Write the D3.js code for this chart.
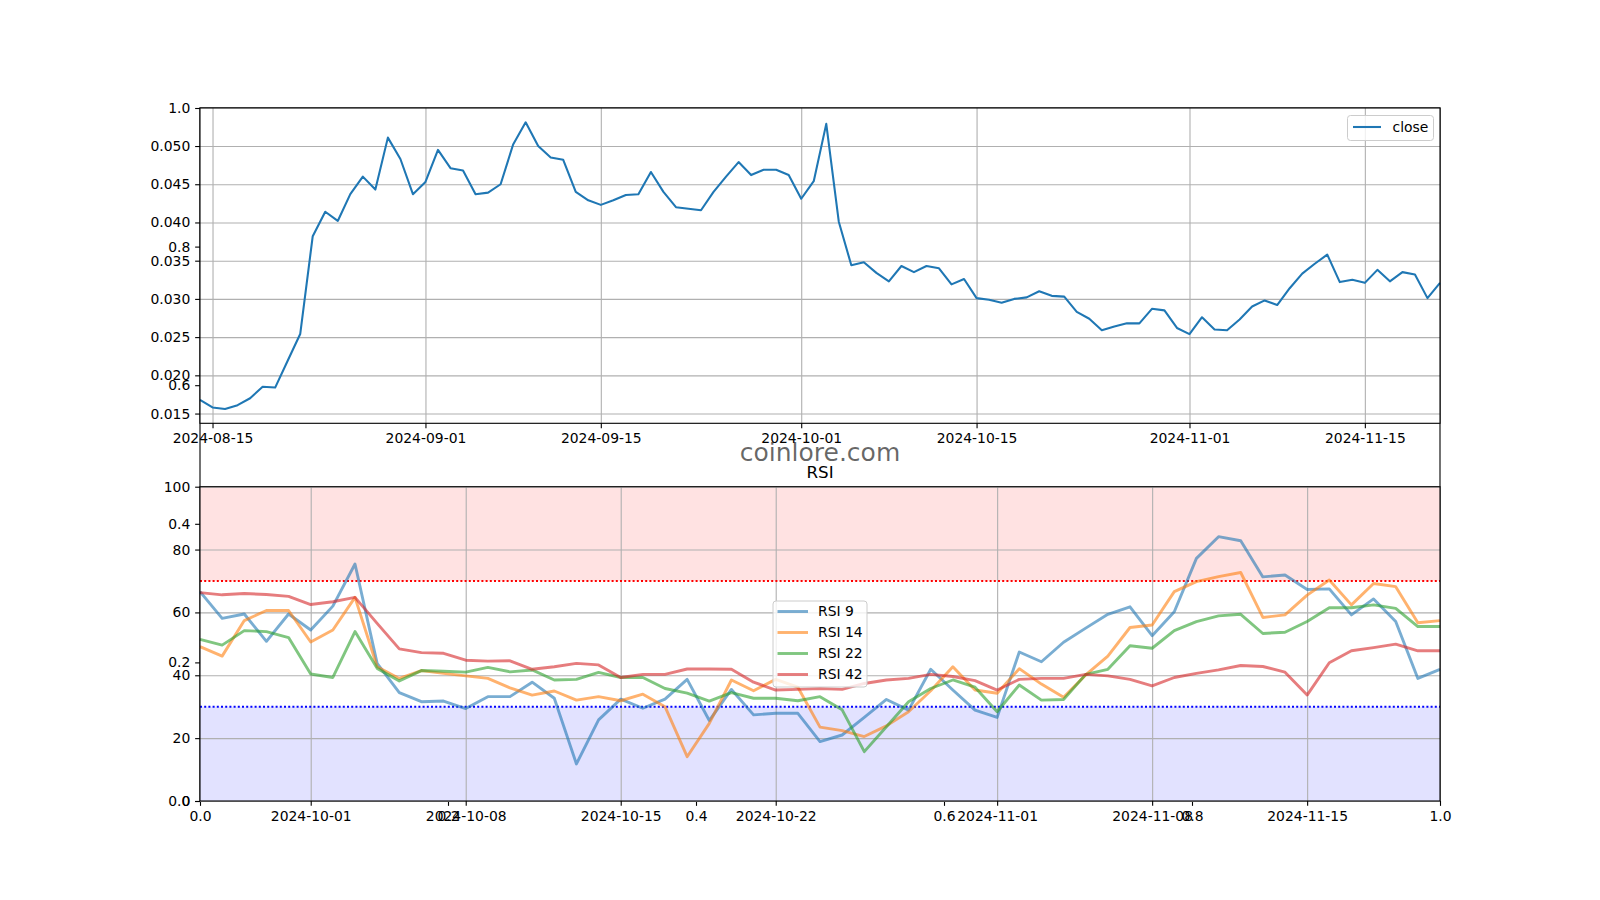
<!DOCTYPE html>
<html>
<head>
<meta charset="utf-8">
<style>
  body { margin: 0; background: #fff; }
</style>
</head>
<body>
<svg width="1600" height="900"></svg>
<script src="https://cdn.jsdelivr.net/npm/d3@7"></script>
<script>
// daily dates of the close series
var dates = [
  "2024-08-14","2024-08-15","2024-08-16","2024-08-17","2024-08-18","2024-08-19","2024-08-20","2024-08-21","2024-08-22","2024-08-23",
  "2024-08-24","2024-08-25","2024-08-26","2024-08-27","2024-08-28","2024-08-29","2024-08-30","2024-08-31","2024-09-01","2024-09-02",
  "2024-09-03","2024-09-04","2024-09-05","2024-09-06","2024-09-07","2024-09-08","2024-09-09","2024-09-10","2024-09-11","2024-09-12",
  "2024-09-13","2024-09-14","2024-09-15","2024-09-16","2024-09-17","2024-09-18","2024-09-19","2024-09-20","2024-09-21","2024-09-22",
  "2024-09-23","2024-09-24","2024-09-25","2024-09-26","2024-09-27","2024-09-28","2024-09-29","2024-09-30","2024-10-01","2024-10-02",
  "2024-10-03","2024-10-04","2024-10-05","2024-10-06","2024-10-07","2024-10-08","2024-10-09","2024-10-10","2024-10-11","2024-10-12",
  "2024-10-13","2024-10-14","2024-10-15","2024-10-16","2024-10-17","2024-10-18","2024-10-19","2024-10-20","2024-10-21","2024-10-22",
  "2024-10-23","2024-10-24","2024-10-25","2024-10-26","2024-10-27","2024-10-28","2024-10-29","2024-10-30","2024-10-31","2024-11-01",
  "2024-11-02","2024-11-03","2024-11-04","2024-11-05","2024-11-06","2024-11-07","2024-11-08","2024-11-09","2024-11-10","2024-11-11",
  "2024-11-12","2024-11-13","2024-11-14","2024-11-15","2024-11-16","2024-11-17","2024-11-18","2024-11-19","2024-11-20","2024-11-21"
];
var close = [
  0.0168, 0.0158, 0.0156, 0.0161, 0.0170, 0.0185, 0.0184, 0.0219, 0.0254, 0.0382,
  0.0414, 0.0402, 0.0437, 0.0460, 0.0443, 0.0511, 0.0483, 0.0437, 0.0453, 0.0495,
  0.0471, 0.0468, 0.0437, 0.0439, 0.0450, 0.0502, 0.0531, 0.0500, 0.0485, 0.0482,
  0.0440, 0.0429, 0.0423, 0.0429, 0.0436, 0.0437, 0.0466, 0.0440, 0.0420, 0.0418,
  0.0416, 0.0440, 0.0460, 0.0479, 0.0462, 0.0469, 0.0469, 0.0462, 0.0431, 0.0454,
  0.0529, 0.0401, 0.0344, 0.0348, 0.0334, 0.0323, 0.0343, 0.0335, 0.0343, 0.0340,
  0.0319, 0.0326, 0.0301, 0.0299, 0.0295, 0.0300, 0.0302, 0.0310, 0.0304, 0.0303,
  0.0283, 0.0274, 0.0259, 0.0264, 0.0268, 0.0268, 0.0287, 0.0285, 0.0262, 0.0254,
  0.0276, 0.0260, 0.0259, 0.0273, 0.0290, 0.0298, 0.0292, 0.0314, 0.0333, 0.0346,
  0.0358, 0.0322, 0.0325, 0.0321, 0.0338, 0.0323, 0.0335, 0.0332, 0.0301, 0.0321
];

// RSI is shown for the last 57 days (2024-09-26 .. 2024-11-21)
var rsiDates = dates.slice(43);
var rsi9 = [
  66.6, 58.1, 59.5, 50.8, 59.5, 54.4, 62.0, 75.4, 43.8, 34.5, 31.6, 31.8, 29.4, 33.2, 33.2,
  37.8, 32.7, 11.8, 25.8, 32.4, 29.5, 32.4, 38.7, 25.6, 35.5, 27.4, 27.9, 27.9, 18.9,
  21.0, 26.6, 32.3, 28.9, 41.9, 35.3, 28.9, 26.6, 47.4, 44.3, 50.5, 55.0, 59.4, 61.8,
  52.6, 60.2, 77.2, 84.1, 82.8, 71.3, 71.9, 67.3, 67.5, 59.2, 64.3, 57.1, 39.0, 41.9
];
var rsi14 = [
  49.1, 46.1, 57.4, 60.6, 60.6, 50.6, 54.4, 64.8, 42.7, 39.0, 41.5, 40.6, 39.8, 39.0, 36.0,
  33.7, 35.0, 32.1, 33.2, 31.9, 34.0, 30.0, 14.1, 24.7, 38.5, 35.1, 38.7, 36.2, 23.5,
  22.4, 20.5, 23.9, 28.4, 35.1, 42.7, 35.3, 34.3, 42.1, 37.2, 33.0, 40.1, 46.1, 55.2,
  56.0, 66.6, 69.8, 71.4, 72.7, 58.4, 59.2, 65.5, 70.3, 62.4, 69.2, 68.2, 56.7, 57.4
];
var rsi22 = [
  51.4, 49.6, 54.2, 53.9, 52.0, 40.4, 39.3, 53.9, 42.2, 38.2, 41.5, 41.3, 41.0, 42.5, 41.1,
  41.7, 38.5, 38.7, 40.9, 39.3, 39.3, 35.8, 34.3, 31.8, 34.5, 32.7, 32.7, 31.9, 33.2,
  29.0, 15.7, 23.6, 31.6, 35.8, 38.5, 36.2, 28.4, 36.9, 32.1, 32.3, 40.3, 41.9, 49.4,
  48.6, 54.2, 57.1, 58.9, 59.4, 53.3, 53.7, 57.1, 61.5, 61.5, 62.4, 61.3, 55.5, 55.5
];
var rsi42 = [
  66.3, 65.6, 66.0, 65.7, 65.1, 62.5, 63.4, 64.8, 56.5, 48.4, 47.2, 47.0, 44.8, 44.5, 44.6,
  41.9, 42.7, 43.8, 43.3, 39.3, 40.3, 40.3, 42.0, 42.0, 41.9, 37.8, 35.3, 35.5, 35.8,
  35.5, 37.4, 38.5, 39.0, 40.3, 39.6, 38.3, 35.3, 38.7, 39.0, 39.0, 40.3, 39.8, 38.7,
  36.6, 39.3, 40.6, 41.7, 43.1, 42.8, 41.0, 33.7, 44.0, 47.8, 48.8, 49.9, 47.8, 47.8
];
var rsiNames = ["RSI 9", "RSI 14", "RSI 22", "RSI 42"];
var rsiSeries = [rsi9, rsi14, rsi22, rsi42];

var priceTicks = [0.015, 0.020, 0.025, 0.030, 0.035, 0.040, 0.045, 0.050];
var priceDateTicks = ["2024-08-15", "2024-09-01", "2024-09-15", "2024-10-01", "2024-10-15", "2024-11-01", "2024-11-15"];
var rsiTicks = [0, 20, 40, 60, 80, 100];
var rsiDateTicks = ["2024-10-01", "2024-10-08", "2024-10-15", "2024-10-22", "2024-11-01", "2024-11-08", "2024-11-15"];
var frameTicks = [0, 0.2, 0.4, 0.6, 0.8, 1.0];

var svg = d3.select("svg");
var font = '"DejaVu Sans", sans-serif';
var fs = 13.9;
var tickLen = 4.86, tickPad = 4.86;
var left = 200, right = 1440;
var parse = d3.timeParse("%Y-%m-%d");
var fmtDate = d3.timeFormat("%Y-%m-%d");
var colors = ["#1f77b4", "#ff7f0e", "#2ca02c", "#d62728"];

function styleAxis(g) {
  g.select(".domain").remove();
  g.selectAll(".tick line").attr("stroke", "#000").attr("stroke-width", 1.1);
  g.selectAll(".tick text").attr("font-family", font).attr("font-size", fs).attr("fill", "#000");
}
function styleGrid(g) {
  g.select(".domain").remove();
  g.selectAll(".tick text").remove();
  g.selectAll(".tick line").attr("stroke", "#b0b0b0").attr("stroke-width", 1.1);
}
function spines(y0, y1) {
  svg.append("rect").attr("x", left).attr("y", y0).attr("width", right - left).attr("height", y1 - y0)
    .attr("fill", "none").attr("stroke", "#000").attr("stroke-width", 1.1);
}

// background (figure-level) axes 0..1
var fx = d3.scaleLinear().domain([0, 1]).range([left, right]);
var fy = d3.scaleLinear().domain([0, 1]).range([801, 108]);
svg.append("rect").attr("width", 1600).attr("height", 900).attr("fill", "#fff");
svg.append("g").attr("transform", "translate(0,801)")
  .call(d3.axisBottom(fx).tickValues(frameTicks).tickFormat(d3.format(".1f")).tickSize(tickLen).tickPadding(tickPad))
  .call(styleAxis);
svg.append("g").attr("transform", "translate(" + left + ",0)")
  .call(d3.axisLeft(fy).tickValues(frameTicks).tickFormat(d3.format(".1f")).tickSize(tickLen).tickPadding(tickPad))
  .call(styleAxis);
spines(108, 801);

// ---- price axes ----
var pTop = 108, pBot = 423.3;
var pDates = dates.map(parse);
var px = d3.scaleTime().domain(d3.extent(pDates)).range([left, right]);
var pMin = d3.min(close), pMax = d3.max(close), pPad = (pMax - pMin) * 0.05;
var py = d3.scaleLinear().domain([pMin - pPad, pMax + pPad]).range([pBot, pTop]);

svg.append("rect").attr("x", left).attr("y", pTop).attr("width", right - left).attr("height", pBot - pTop).attr("fill", "#fff");
svg.append("g").attr("transform", "translate(0," + pBot + ")")
  .call(d3.axisBottom(px).tickValues(priceDateTicks.map(parse)).tickSize(-(pBot - pTop)))
  .call(styleGrid);
svg.append("g").attr("transform", "translate(" + left + ",0)")
  .call(d3.axisLeft(py).tickValues(priceTicks).tickSize(-(right - left)))
  .call(styleGrid);

svg.append("path")
  .datum(close)
  .attr("fill", "none")
  .attr("stroke", colors[0])
  .attr("stroke-width", 2.08)
  .attr("stroke-linejoin", "round")
  .attr("d", d3.line().x(function(d, i) { return px(pDates[i]); }).y(function(d) { return py(d); }));

svg.append("g").attr("transform", "translate(0," + pBot + ")")
  .call(d3.axisBottom(px).tickValues(priceDateTicks.map(parse)).tickFormat(fmtDate).tickSize(tickLen).tickPadding(tickPad))
  .call(styleAxis);
svg.append("g").attr("transform", "translate(" + left + ",0)")
  .call(d3.axisLeft(py).tickValues(priceTicks).tickFormat(d3.format(".3f")).tickSize(tickLen).tickPadding(tickPad))
  .call(styleAxis);
spines(pTop, pBot);

// legend "close"
var lg = svg.append("g").attr("transform", "translate(1347.5,115.5)");
lg.append("rect").attr("width", 86).attr("height", 25).attr("rx", 3)
  .attr("fill", "#fff").attr("fill-opacity", 0.8).attr("stroke", "#cccccc");
lg.append("line").attr("x1", 5.5).attr("x2", 33.5).attr("y1", 11.5).attr("y2", 11.5)
  .attr("stroke", colors[0]).attr("stroke-width", 2.08);
lg.append("text").attr("x", 45).attr("y", 11.5).attr("dy", "0.35em")
  .attr("font-family", font).attr("font-size", fs).text("close");

// watermark + RSI title
svg.append("text").attr("x", 820).attr("y", 461).attr("text-anchor", "middle")
  .attr("font-family", font).attr("font-size", 25).attr("fill", "#000").attr("fill-opacity", 0.6)
  .text("coinlore.com");
svg.append("text").attr("x", 820).attr("y", 478.4).attr("text-anchor", "middle")
  .attr("font-family", font).attr("font-size", 16.7).attr("fill", "#000").text("RSI");

// ---- RSI axes ----
var rTop = 486.7, rBot = 801;
var rDates = rsiDates.map(parse);
var rx = d3.scaleTime().domain(d3.extent(rDates)).range([left, right]);
var ry = d3.scaleLinear().domain([0, 100]).range([rBot, rTop]);

svg.append("rect").attr("x", left).attr("y", rTop).attr("width", right - left).attr("height", rBot - rTop).attr("fill", "#fff");
svg.append("rect").attr("x", left).attr("y", ry(100)).attr("width", right - left).attr("height", ry(70) - ry(100))
  .attr("fill", "#ff0000").attr("fill-opacity", 0.115);
svg.append("rect").attr("x", left).attr("y", ry(30)).attr("width", right - left).attr("height", ry(0) - ry(30))
  .attr("fill", "#0000ff").attr("fill-opacity", 0.115);

svg.append("g").attr("transform", "translate(0," + rBot + ")")
  .call(d3.axisBottom(rx).tickValues(rsiDateTicks.map(parse)).tickSize(-(rBot - rTop)))
  .call(styleGrid);
svg.append("g").attr("transform", "translate(" + left + ",0)")
  .call(d3.axisLeft(ry).tickValues(rsiTicks).tickSize(-(right - left)))
  .call(styleGrid);

[[70, "#ff0000"], [30, "#0000ff"]].forEach(function(h) {
  svg.append("line").attr("x1", left).attr("x2", right).attr("y1", ry(h[0])).attr("y2", ry(h[0]))
    .attr("stroke", h[1]).attr("stroke-width", 2).attr("stroke-dasharray", "2,2.2");
});

var rline = d3.line().x(function(d, i) { return rx(rDates[i]); }).y(function(d) { return ry(d); });
rsiSeries.forEach(function(s, k) {
  svg.append("path").datum(s)
    .attr("fill", "none").attr("stroke", colors[k]).attr("stroke-opacity", 0.6)
    .attr("stroke-width", 2.9).attr("stroke-linejoin", "round")
    .attr("d", rline);
});

svg.append("g").attr("transform", "translate(0," + rBot + ")")
  .call(d3.axisBottom(rx).tickValues(rsiDateTicks.map(parse)).tickFormat(fmtDate).tickSize(tickLen).tickPadding(tickPad))
  .call(styleAxis);
svg.append("g").attr("transform", "translate(" + left + ",0)")
  .call(d3.axisLeft(ry).tickValues(rsiTicks).tickSize(tickLen).tickPadding(tickPad))
  .call(styleAxis);
spines(rTop, rBot);

// RSI legend, centred in the axes
var rl = svg.append("g").attr("transform", "translate(773,601)");
rl.append("rect").attr("width", 94).attr("height", 86).attr("rx", 3)
  .attr("fill", "#fff").attr("fill-opacity", 0.8).attr("stroke", "#cccccc");
rsiNames.forEach(function(n, k) {
  var y = 10.5 + k * 21;
  rl.append("line").attr("x1", 4.5).attr("x2", 35).attr("y1", y).attr("y2", y)
    .attr("stroke", colors[k]).attr("stroke-opacity", 0.6).attr("stroke-width", 2.9);
  rl.append("text").attr("x", 45).attr("y", y).attr("dy", "0.35em")
    .attr("font-family", font).attr("font-size", fs).text(n);
});
</script>
</body>
</html>
